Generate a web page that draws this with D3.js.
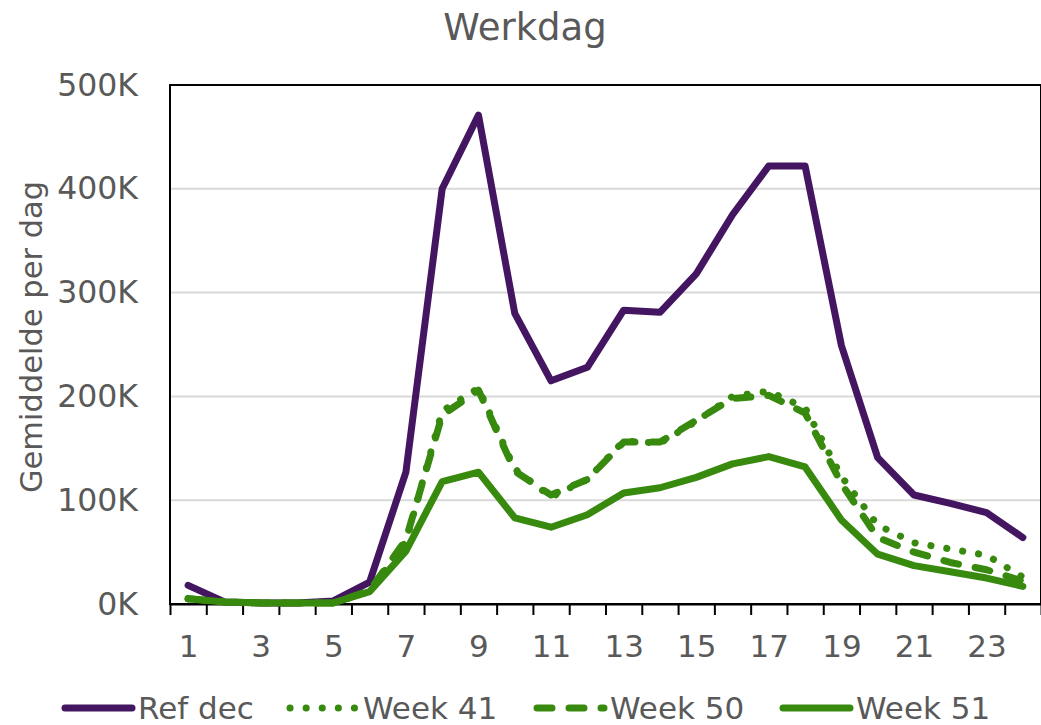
<!DOCTYPE html>
<html>
<head>
<meta charset="utf-8">
<script src="https://cdn.jsdelivr.net/npm/d3@7"></script>
<style>
  html, body { margin: 0; padding: 0; background: #fff; }
  svg text { font-family: "DejaVu Sans", Verdana, sans-serif; fill: #595959; }
</style>
</head>
<body>
<div id="chart"></div>
<script>
// Werkdag - gemiddelde per uur
const hours = d3.range(1, 25);
const tickLabels = [1, 3, 5, 7, 9, 11, 13, 15, 17, 19, 21, 23];
const yTicks = [0, 100000, 200000, 300000, 400000, 500000];

const refDec = [18000, 2000, 1000, 1000, 3000, 21000, 127000, 400000, 471000, 280000, 215000, 228000,
  283000, 281000, 318000, 375000, 422000, 422000, 249000, 141000, 105000, 97000, 88000, 64000];
const week41 = [5000, 2000, 1000, 1000, 1000, 12000, 60000, 186000, 208000, 130000, 103000, 120000,
  157000, 155000, 176000, 200000, 205000, 189000, 123000, 76000, 59000, 53000, 47000, 26000];
const week50 = [5000, 2000, 1000, 1000, 1000, 13000, 62000, 182000, 206000, 128000, 105000, 120000,
  156000, 156000, 177000, 198000, 201000, 184000, 116000, 64000, 50000, 40000, 33000, 22000];
const week51 = [5000, 2000, 1000, 1000, 1000, 12000, 51000, 118000, 127000, 83000, 74000, 86000,
  107000, 112000, 122000, 135000, 142000, 132000, 81000, 48000, 37000, 31000, 25000, 17000];

const purple = '#441560';
const green = '#388a0e';

const series = [
  { name: 'Ref dec', values: refDec, color: purple, dash: null },
  { name: 'Week 41', values: week41, color: green, dash: '0.1 16' },
  { name: 'Week 50', values: week50, color: green, dash: '15 17' },
  { name: 'Week 51', values: week51, color: green, dash: null }
];

const width = 1041;
const height = 725;
const margin = { top: 85, right: 0, bottom: 121, left: 170 };

const svg = d3.select('#chart')
  .append('svg')
  .attr('width', width)
  .attr('height', height);

// category edges at 0.5 .. 24.5
const x = d3.scaleLinear()
  .domain([0.5, 24.5])
  .range([margin.left, width - margin.right]);

const y = d3.scaleLinear()
  .domain([0, 500000])
  .range([height - margin.bottom, margin.top]);

// Gridlines
svg.append('g')
  .selectAll('line')
  .data(yTicks.slice(1))
  .enter().append('line')
  .attr('x1', margin.left)
  .attr('x2', width - margin.right)
  .attr('y1', d => y(d))
  .attr('y2', d => y(d))
  .attr('stroke', '#d9d9d9')
  .attr('stroke-width', 2);

// Plot border
svg.append('rect')
  .attr('x', margin.left)
  .attr('y', margin.top)
  .attr('width', width - margin.right - margin.left)
  .attr('height', y(0) - margin.top)
  .attr('fill', 'none')
  .attr('stroke', '#000')
  .attr('stroke-width', 2);

// X axis: ticks on category edges
const xAxis = svg.append('g')
  .attr('transform', `translate(0,${y(0)})`)
  .call(d3.axisBottom(x).tickValues(d3.range(0.5, 25, 1)).tickFormat('').tickSize(11).tickSizeOuter(0));
xAxis.select('.domain').attr('stroke', '#000').attr('stroke-width', 2);
xAxis.selectAll('.tick line').attr('stroke', '#000').attr('stroke-width', 2);

// X labels
svg.append('g')
  .attr('transform', `translate(0,${y(0)})`)
  .call(d3.axisBottom(x).tickValues(tickLabels).tickSize(0).tickPadding(31))
  .call(g => g.select('.domain').remove())
  .selectAll('text')
  .style('font-size', '31px');

// Y axis labels
svg.append('g')
  .attr('transform', `translate(${margin.left},0)`)
  .call(d3.axisLeft(y).tickValues(yTicks).tickSize(0).tickPadding(32).tickFormat(d => (d / 1000) + 'K'))
  .call(g => g.select('.domain').remove())
  .selectAll('text')
  .style('font-size', '31.5px');

// Y axis title
svg.append('text')
  .attr('transform', 'rotate(-90)')
  .attr('x', -337)
  .attr('y', 42)
  .style('text-anchor', 'middle')
  .style('font-size', '30.5px')
  .text('Gemiddelde per dag');

// Title
svg.append('text')
  .attr('x', 525)
  .attr('y', 40)
  .style('text-anchor', 'middle')
  .style('font-size', '37px')
  .text('Werkdag');

// Lines
const line = d3.line()
  .x((d, i) => x(hours[i]))
  .y(d => y(d));

svg.selectAll('.series')
  .data(series)
  .enter().append('path')
  .attr('class', 'series')
  .attr('d', d => line(d.values))
  .attr('fill', 'none')
  .attr('stroke', d => d.color)
  .attr('stroke-width', 7)
  .attr('stroke-linejoin', 'round')
  .attr('stroke-linecap', 'round')
  .attr('stroke-dasharray', d => d.dash);

// Legend
const legendX = [65, 290, 537, 783];
const legend = svg.selectAll('.legend')
  .data(series)
  .enter().append('g')
  .attr('class', 'legend')
  .attr('transform', (d, i) => `translate(${legendX[i]},708)`);

legend.append('line')
  .attr('x1', 0)
  .attr('x2', 67)
  .attr('stroke', d => d.color)
  .attr('stroke-width', 7)
  .attr('stroke-linecap', 'round')
  .attr('stroke-dasharray', d => d.dash);

legend.append('text')
  .attr('x', 73)
  .attr('dy', '0.35em')
  .style('font-size', '31px')
  .text(d => d.name);
</script>
</body>
</html>
